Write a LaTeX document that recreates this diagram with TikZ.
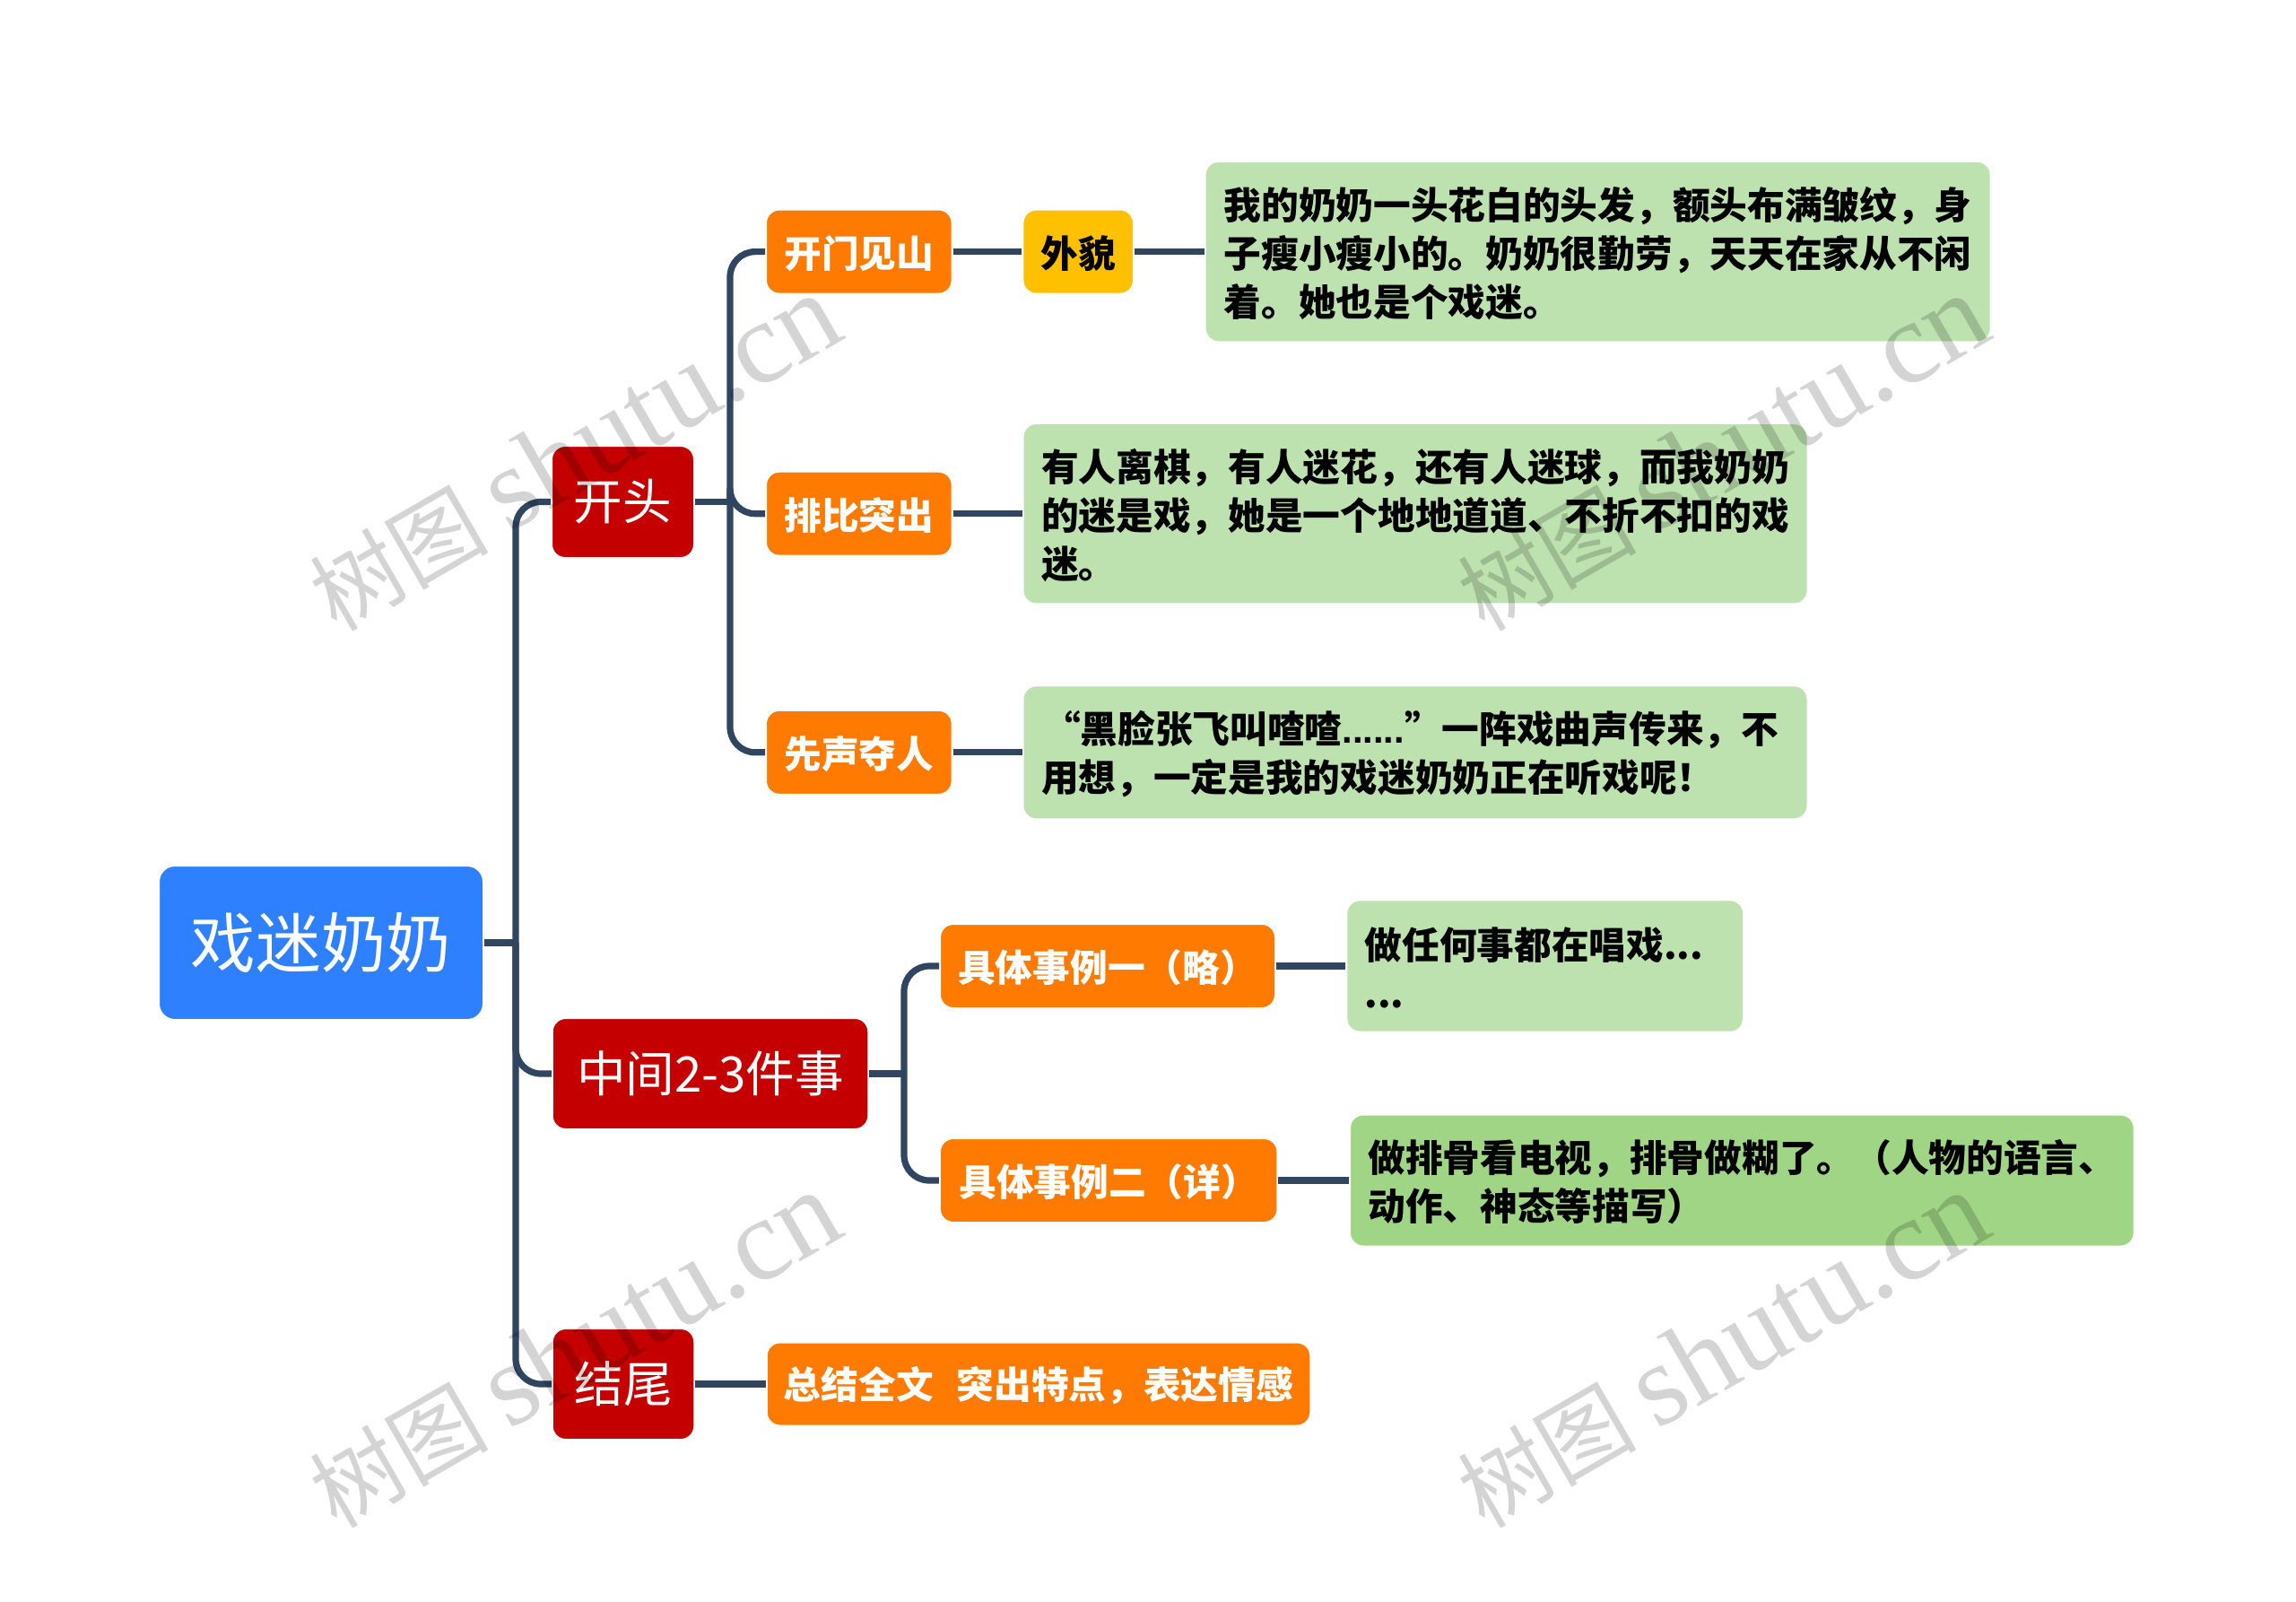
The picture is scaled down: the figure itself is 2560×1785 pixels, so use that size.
\documentclass[tikz,border=0pt]{standalone}
\usepackage{fontspec}
\setmainfont{Noto Sans CJK SC}
\newfontfamily\wmlatin{Liberation Serif}
\newfontfamily\wmcjk{Noto Sans CJK SC}
\newfontfamily\dotfont{Liberation Sans}
\definecolor{rootblue}{HTML}{2F80FF}
\definecolor{topred}{HTML}{C40000}
\definecolor{midorange}{HTML}{FF7A00}
\definecolor{tagyellow}{HTML}{FFC000}
\definecolor{leafgreen}{HTML}{BEE2AF}
\definecolor{leafdeep}{HTML}{A0D585}
\definecolor{linkblue}{HTML}{2F4560}
\tikzset{
  x=0.5pt,y=-0.5pt,
  basebox/.style={rectangle,rounded corners=7.5pt,draw=white,line width=1pt,inner sep=0pt,outer sep=0.5pt},
  lowertext/.style={execute at begin node={\rule{0pt}{20pt}}},
  rootbox/.style={basebox,rounded corners=9pt,fill=rootblue,text=white,font=\fontsize{36.3pt}{42pt}\selectfont},
  redbox/.style={basebox,fill=topred,text=white,font=\fontsize{27.3pt}{32pt}\selectfont},
  orangebox/.style={basebox,lowertext,fill=midorange,text=white,font=\fontsize{20.85pt}{27pt}\selectfont\bfseries},
  yellowbox/.style={basebox,lowertext,fill=tagyellow,text=black,font=\fontsize{20.85pt}{27pt}\selectfont\bfseries},
  greenbox/.style={basebox,lowertext,fill=leafgreen,text=black,align=left,font=\fontsize{20.85pt}{27pt}\selectfont\bfseries},
  deepbox/.style={greenbox,fill=leafdeep},
  boxsize/.style 2 args={minimum width=#1*0.5pt+1pt,minimum height=#2*0.5pt+1pt},
  link/.style={draw=linkblue,line width=3.6pt},
  elbow/.style={link,rounded corners=14pt},
  wmark/.style={inner sep=0pt,rotate=30,text=black,text opacity=0.17}
}
\begin{document}
\begin{tikzpicture}
\useasboundingbox (0,0) rectangle (2560,1785);
\fill[white] (0,0) rectangle (2560,1785);
% nodes
\node[rootbox,boxsize={360}{170}] (root) at (358,1051) {戏迷奶奶};
\node[redbox,boxsize={157}{123}] (kt) at (694.5,559.5) {开头};
\node[redbox,boxsize={350.5}{122}] (mid) at (792,1197) {中间2-3件事};
\node[redbox,boxsize={156.5}{122}] (end) at (695,1543) {结尾};
\node[orangebox,boxsize={205.6}{92}] (o1) at (957.8,280.6) {开门见山};
\node[orangebox,boxsize={205.6}{92}] (o2) at (957.8,572.7) {排比突出};
\node[orangebox,boxsize={205.6}{92}] (o3) at (957.8,838.8) {先声夺人};
\node[yellowbox,boxsize={121.5}{92}] (look) at (1202.2,280.6) {外貌};
\node[greenbox,boxsize={874}{199.4},text width=417pt] (g1) at (1781.6,280.6) {我的奶奶一头花白的头发，额头布满皱纹，身\\子瘦小瘦小的。奶奶很勤劳，天天在家从不闲\\着。她也是个戏迷。};
\node[greenbox,boxsize={873}{199.5},text width=417pt] (g2) at (1578,572.7) {有人离棋，有人迷花，还有人迷球，而我奶奶\\的迷是戏，她是一个地地道道、不折不扣的戏\\迷。};
\node[greenbox,boxsize={873}{147},text width=417pt] (g3) at (1578,838.8) {\hspace*{1pt}“黑脸张飞叫喳喳{\dotfont\bfseries ......}”一阵戏曲声传来，不\\用想，一定是我的戏迷奶奶正在听戏呢！};
\node[orangebox,boxsize={372}{92}] (e1) at (1235,1077) {具体事例一（略）};
\node[orangebox,boxsize={374.5}{92}] (e2) at (1236.2,1316) {具体事例二（详）};
\node[greenbox,boxsize={440.6}{145.4},text width=201pt] (g4) at (1722.7,1077) {做任何事都在唱戏...\\...};
\node[deepbox,boxsize={872.6}{145},text width=417pt] (g5) at (1942.3,1316) {做排骨看电视，排骨做糊了。（人物的语言、\\动作、神态等描写）};
\node[orangebox,boxsize={604.5}{91}] (sum) at (1158,1543) {总结全文\hspace*{13pt}突出特点，表达情感};
% junctions
\coordinate (j0) at (575,1051);
\coordinate (j1) at (814,559.5);
\coordinate (j2) at (1008,1197);
% connectors
\draw[link] (root.east) -- (j0);
\draw[elbow] (j0) |- (kt.west);
\draw[elbow] (j0) |- (mid.west);
\draw[elbow] (j0) |- (end.west);
\draw[link] (kt.east) -- (j1);
\draw[elbow] (j1) |- (o1.west);
\draw[elbow] (j1) |- (o2.west);
\draw[elbow] (j1) |- (o3.west);
\draw[link] (o1.east) -- (look.west);
\draw[link] (look.east) -- (g1.west);
\draw[link] (o2.east) -- (g2.west);
\draw[link] (o3.east) -- (g3.west);
\draw[link] (mid.east) -- (j2);
\draw[elbow] (j2) |- (e1.west);
\draw[elbow] (j2) |- (e2.west);
\draw[link] (e1.east) -- (g4.west);
\draw[link] (e2.east) -- (g5.west);
\draw[link] (end.east) -- (sum.west);
% watermarks
\foreach \wx/\wy/\wn in {640/505/a,1920/505/b,640/1505/c,1920/1505/d}{
  \node[wmark] (wm\wn) at (\wx,\wy) {{\wmcjk\fontsize{50pt}{50pt}\selectfont 树图}\hspace{11pt}{\wmlatin\fontsize{65pt}{60pt}\selectfont shutu.cn}};
}
\end{tikzpicture}
\end{document}
